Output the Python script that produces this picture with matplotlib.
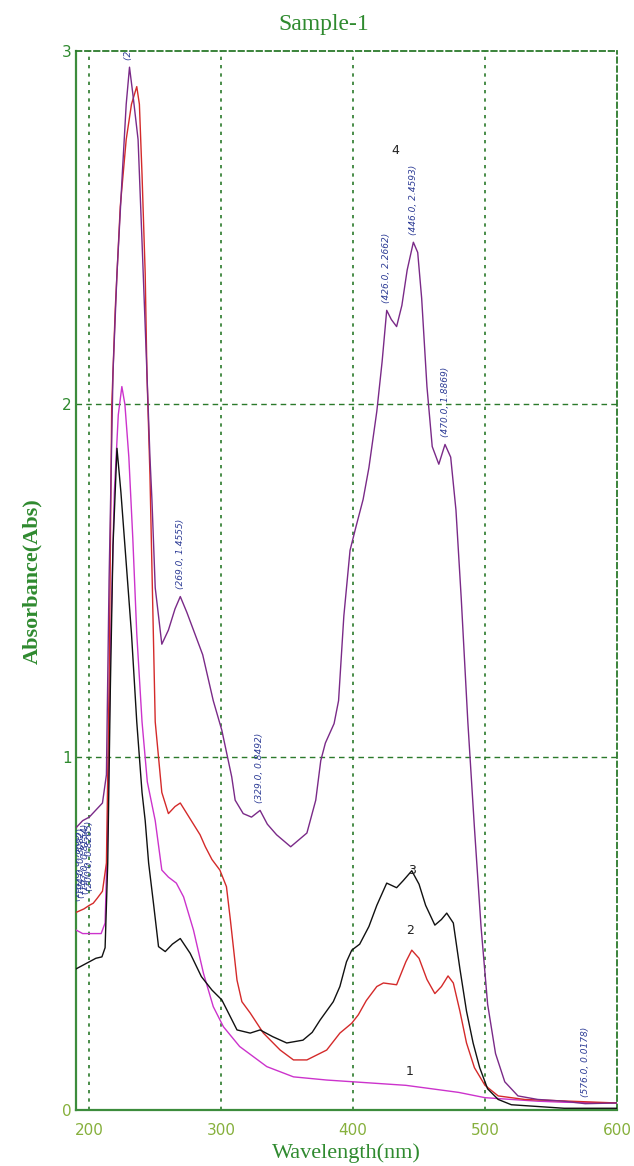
import matplotlib
matplotlib.use("Agg")
import matplotlib.pyplot as plt

# ---- data ----
wl_1 = [190, 195, 200, 205, 209, 212, 214, 216, 219, 222, 224.7, 227, 230, 233, 236, 240, 244, 250, 255,
        260, 266, 271.5, 279, 286.6, 294, 301.7, 314, 334.6, 354.8, 380, 400, 420, 440, 460, 480, 500,
        520, 540, 560, 600]
abs_1 = [0.51, 0.50, 0.50, 0.50, 0.50, 0.53, 0.80, 1.30, 1.75, 1.97, 2.05, 2.00, 1.85, 1.62, 1.35, 1.10,
         0.93, 0.82, 0.68, 0.66, 0.643, 0.604, 0.51, 0.387, 0.293, 0.236, 0.18, 0.123, 0.094, 0.085, 0.08,
         0.075, 0.07, 0.06, 0.05, 0.035, 0.03, 0.025, 0.022, 0.02]

wl_2 = [190, 196, 200, 203, 206, 210, 213, 215, 217, 219.7, 223.5, 228, 232, 236, 238, 240, 242.4, 243.7,
        246, 248, 250, 255, 260, 265, 269, 274, 279, 284, 288, 293, 299, 304, 307, 312, 315.7, 322, 332,
        344.7, 354.8, 365, 380, 390, 399, 404, 410, 418, 423, 433, 440, 444.5, 450, 456, 462, 467, 472,
        476, 481, 486, 492, 500, 510, 530, 600]
abs_2 = [0.56, 0.57, 0.58, 0.586, 0.60, 0.62, 0.70, 1.20, 1.99, 2.27, 2.56, 2.75, 2.85, 2.90, 2.85, 2.65,
         2.37, 2.09, 1.80, 1.45, 1.10, 0.90, 0.84, 0.86, 0.87, 0.84, 0.81, 0.78, 0.746, 0.71, 0.68, 0.633,
         0.538, 0.368, 0.307, 0.275, 0.218, 0.17, 0.142, 0.142, 0.17, 0.218, 0.246, 0.27, 0.31, 0.35,
         0.36, 0.355, 0.42, 0.453, 0.43, 0.37, 0.33, 0.35, 0.38, 0.36, 0.28, 0.19, 0.12, 0.07, 0.04,
         0.03, 0.02]

wl_3 = [190, 195, 200, 205, 209.6, 212, 214, 216, 218, 221, 224, 228, 232, 236, 240, 242.4, 245, 248.7,
        252.5, 257.6, 263, 269, 276.5, 285, 293, 300.5, 307, 312, 322, 329.5, 339, 349.7, 362, 369, 375,
        385, 390, 395, 399, 405, 412, 418, 425.5, 433, 438, 444.5, 450, 455, 462, 467, 471, 476, 481, 486,
        491, 496, 502, 510, 520, 540, 560, 600]
abs_3 = [0.40, 0.41, 0.42, 0.43, 0.434, 0.46, 0.70, 1.20, 1.60, 1.875, 1.75, 1.55, 1.35, 1.10, 0.90, 0.82,
         0.70, 0.585, 0.463, 0.449, 0.47, 0.486, 0.444, 0.378, 0.34, 0.312, 0.264, 0.227, 0.218, 0.227,
         0.208, 0.19, 0.198, 0.22, 0.255, 0.307, 0.35, 0.42, 0.453, 0.47, 0.52, 0.58, 0.643, 0.63, 0.65,
         0.678, 0.64, 0.58, 0.524, 0.54, 0.558, 0.53, 0.40, 0.28, 0.19, 0.12, 0.06, 0.03, 0.015, 0.01,
         0.005, 0.005]

wl_4 = [190, 195, 200, 205, 210, 213, 215, 218, 221, 225, 228, 230.5, 233, 237, 240, 243.7, 246, 247.5,
        250, 255, 260, 265, 269, 274, 279, 286, 294, 300.5, 308, 310.6, 316.7, 323, 329.5, 335, 342, 352.7,
        365, 371.7, 375.5, 379, 385.6, 389, 393, 397.7, 402, 407.6, 412, 418, 422, 425.5, 429, 433, 437,
        441, 445.7, 449, 452, 456, 460, 465, 469.7, 474, 478, 482, 487, 492, 497, 502, 508, 515, 525, 540,
        560, 576, 600]
abs_4 = [0.80, 0.82, 0.83, 0.85, 0.87, 0.95, 1.50, 2.09, 2.37, 2.65, 2.85, 2.955, 2.88, 2.75, 2.46, 2.09,
         1.85, 1.73, 1.48, 1.32, 1.36, 1.42, 1.455, 1.41, 1.36, 1.29, 1.16, 1.076, 0.944, 0.878, 0.84, 0.83,
         0.849, 0.81, 0.78, 0.746, 0.785, 0.878, 0.99, 1.04, 1.095, 1.16, 1.40, 1.586, 1.65, 1.73, 1.82,
         1.98, 2.12, 2.266, 2.24, 2.22, 2.28, 2.38, 2.459, 2.43, 2.30, 2.05, 1.88, 1.83, 1.886, 1.85, 1.70,
         1.45, 1.10, 0.80, 0.52, 0.30, 0.16, 0.08, 0.04, 0.03, 0.025, 0.018, 0.02]

# peak pick labels (wavelength, absorbance) on curve 4
peaks = [(230.0, 2.9553), (269.0, 1.4555), (329.0, 0.8492), (425.5, 2.2662),
         (445.7, 2.4593), (469.7, 1.8869), (576.0, 0.0178)]
peak_txt = ["(230.0, 2.9553)", "(269.0, 1.4555)", "(329.0, 0.8492)", "(426.0, 2.2662)",
            "(446.0, 2.4593)", "(470.0, 1.8869)", "(576.0, 0.0178)"]
left_pk = [(191, 0.80), (194, 0.81), (197, 0.82), (200, 0.83)]
left_txt = ["(191.0, 0.7968)", "(194.0, 0.8082)", "(197.0, 0.8154)", "(200.0, 0.8265)"]

curve_lbl = [("1", 443, 0.09), ("2", 443, 0.49), ("3", 445, 0.66), ("4", 432, 2.70)]

green = "#2f8a2f"
tick_green = "#86b03c"
grid_green = "#2b7a2b"

fig = plt.figure(figsize=(6.34, 11.66), dpi=100)
ax = fig.add_axes([0.12, 0.048, 0.853, 0.908])

ax.plot(wl_1, abs_1, color="#cc33cc", lw=1.0, zorder=3)
ax.plot(wl_2, abs_2, color="#d42a2a", lw=1.0, zorder=3)
ax.plot(wl_3, abs_3, color="#111111", lw=1.0, zorder=3)
ax.plot(wl_4, abs_4, color="#7a2a88", lw=1.0, zorder=4)

for (x, y), t in zip(peaks, peak_txt):
    ax.text(x, y + 0.02, t, rotation=90, fontsize=6.5, style="italic", color="#2d3c96",
            ha="center", va="bottom", clip_on=True)
for (x, y), t in zip(left_pk, left_txt):
    ax.text(x, y - 0.01, t, rotation=90, fontsize=6.5, style="italic", color="#2d3c96",
            ha="center", va="top", clip_on=True)

for t, x, y in curve_lbl:
    ax.text(x, y, t, fontsize=9, color="#222222", ha="center", va="bottom")

ax.set_xlim(190, 600)
ax.set_ylim(0, 3)
ax.set_xticks([200, 300, 400, 500, 600])
ax.set_yticks([0, 1, 2, 3])
ax.tick_params(axis="x", length=0, labelsize=11, labelcolor=tick_green, pad=9)
ax.tick_params(axis="y", length=0, labelsize=11, labelcolor=green, pad=3)
ax.get_yticklabels()[0].set_color(tick_green)

for x in [200, 300, 400, 500]:
    ax.axvline(x, color=grid_green, lw=1.2, ls=(0, (2, 3)), zorder=1)
for y in [1, 2]:
    ax.axhline(y, color=grid_green, lw=1.0, ls=(0, (4, 3)), zorder=1)

ax.spines["left"].set_color("#3c8c3c")
ax.spines["bottom"].set_color("#3c8c3c")
ax.spines["left"].set_linewidth(1.6)
ax.spines["bottom"].set_linewidth(1.6)
for s in ["top", "right"]:
    ax.spines[s].set_color(grid_green)
    ax.spines[s].set_linewidth(1.3)
    ax.spines[s].set_linestyle((0, (3, 2)))

ax.set_title("Sample-1", fontsize=17, color=green, family="Liberation Serif", pad=15, x=0.458)
ax.set_xlabel("Wavelength(nm)", fontsize=16, color=green, family="Liberation Serif", labelpad=4)
ax.set_ylabel("Absorbance(Abs)", fontsize=16, color=green, family="Liberation Serif",
              fontweight="bold", labelpad=14)

fig.savefig("out.png", dpi=100)
